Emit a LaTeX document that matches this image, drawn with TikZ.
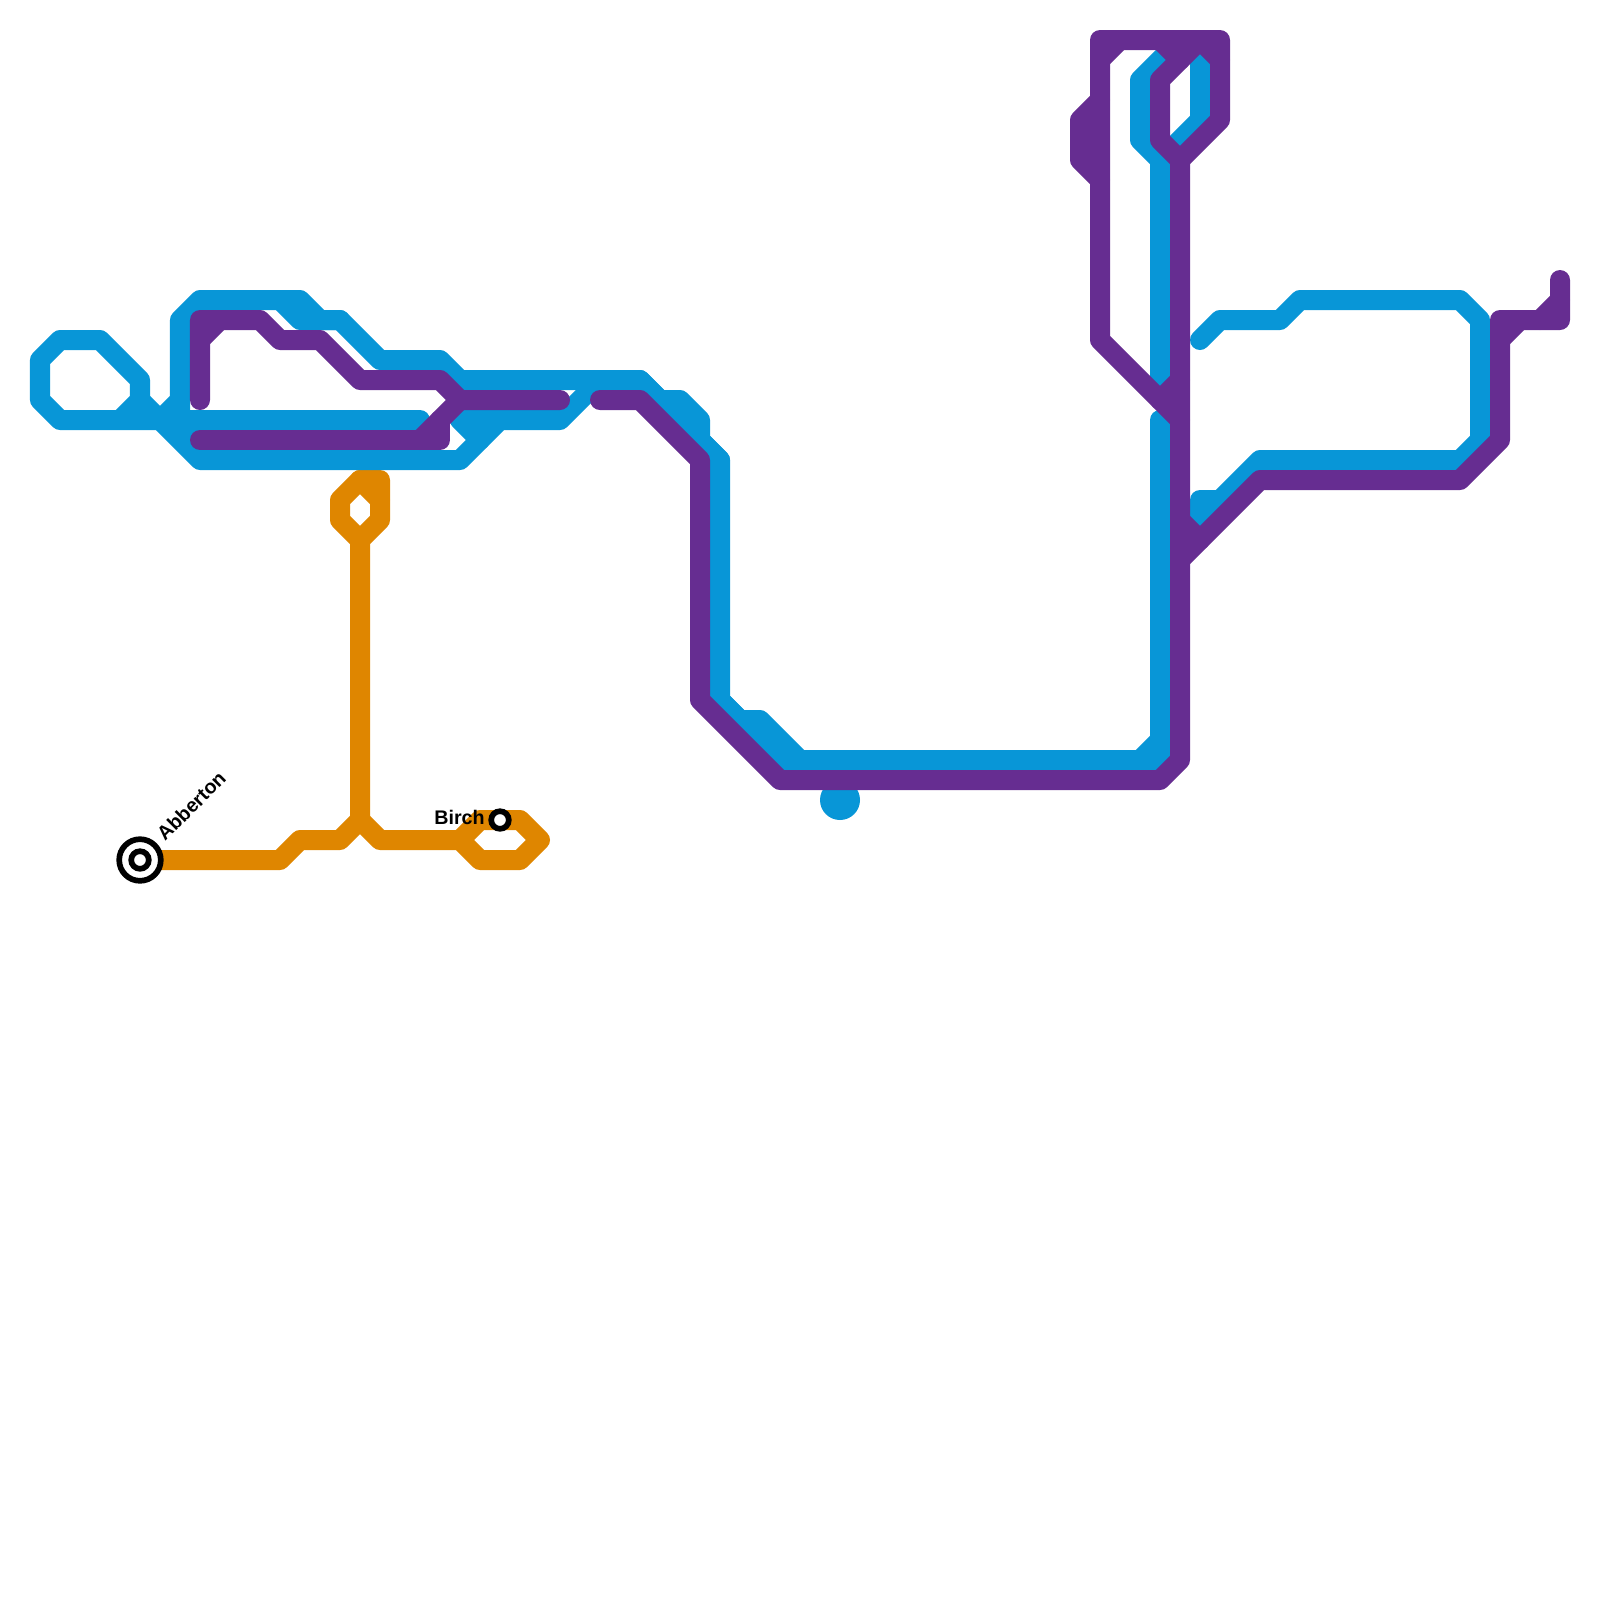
\documentclass[tikz,border=0pt]{standalone}
\usepackage{fontspec}
\setmainfont{Liberation Sans}
\definecolor{lineblue}{HTML}{0896D7}
\definecolor{linepurple}{HTML}{662D91}
\definecolor{lineorange}{HTML}{DF8600}
\tikzset{
  route/.style={line width=0.5cm,line cap=round,line join=round},
  blueline/.style={route,draw=lineblue},
  purpleline/.style={route,draw=linepurple},
  orangeline/.style={route,draw=lineorange},
  stationlabel/.style={font=\bfseries\fontsize{14pt}{16pt}\selectfont,inner sep=0pt,text=black},
  ringouter/.style={circle,fill=white,draw=black,line width=0.1425cm,inner sep=0pt,minimum size=1.04cm},
  ringinner/.style={circle,fill=white,draw=black,line width=0.1425cm,inner sep=0pt,minimum size=0.44cm},
}
\begin{document}
\begin{tikzpicture}[x=0.025cm,y=-0.025cm]
\useasboundingbox (0,0) rectangle (1600,1600);
% orange line
\draw[orangeline] (140,860) -- (280,860) -- (300,840) -- (340,840) -- (360,820) -- (380,840) -- (460,840) -- (480,860) -- (520,860) -- (540,840) -- (520,820) -- (480,820) -- (460,840);
\draw[orangeline] (360,820) -- (360,540) -- (380,520) -- (380,480) -- (360,480) -- (340,500) -- (340,520) -- (360,540);
\draw[orangeline] (360,480) -- (380,500);
% blue line
\draw[blueline] (120,420) -- (140,400) -- (140,380) -- (100,340) -- (60,340) -- (40,360) -- (40,400) -- (60,420) -- (420,420);
\draw[blueline] (140,400) -- (200,460) -- (460,460) -- (500,420) -- (560,420) -- (600,380);
\draw[blueline] (160,420) -- (180,400) -- (180,320) -- (200,300) -- (300,300) -- (320,320) -- (340,320) -- (380,360) -- (440,360) -- (460,380) -- (640,380) -- (720,460) -- (720,700) -- (780,760) -- (1160,760) -- (1160,420);
\draw[blueline] (180,400) -- (180,420) -- (200,440) -- (420,440);
\draw[blueline] (280,300) -- (300,320) -- (340,320);
\draw[blueline] (480,440) -- (460,420) -- (500,420);
\draw[blueline] (640,380) -- (660,400) -- (680,400) -- (700,420) -- (700,440) -- (720,460);
\draw[blueline] (720,700) -- (740,720) -- (760,720) -- (800,760);
\draw[blueline] (1140,760) -- (1160,740);
\draw[blueline] (1180,40) -- (1140,80) -- (1140,140) -- (1160,160) -- (1160,380);
\draw[blueline] (1180,40) -- (1200,60) -- (1200,120) -- (1160,160);
\draw[blueline] (1200,340) -- (1220,320) -- (1280,320) -- (1300,300) -- (1460,300) -- (1480,320) -- (1480,440) -- (1460,460) -- (1260,460) -- (1200,520) -- (1200,500) -- (1220,500);
\fill[lineblue] (840,800) circle (0.5cm);
% purple line
\draw[purpleline] (200,400) -- (200,320) -- (260,320) -- (280,340) -- (320,340) -- (360,380) -- (440,380) -- (460,400) -- (560,400);
\draw[purpleline] (200,340) -- (220,320);
\draw[purpleline] (200,440) -- (440,440) -- (440,420);
\draw[purpleline] (420,440) -- (460,400);
\draw[purpleline] (600,400) -- (640,400) -- (700,460) -- (700,700) -- (780,780) -- (1160,780) -- (1180,760) -- (1180,160) -- (1160,140) -- (1160,80) -- (1200,40);
\draw[purpleline] (1180,160) -- (1220,120) -- (1220,40) -- (1100,40) -- (1100,340) -- (1180,420);
\draw[purpleline] (1100,60) -- (1120,40);
\draw[purpleline] (1100,100) -- (1080,120) -- (1080,160) -- (1100,180);
\draw[purpleline] (1160,40) -- (1180,60);
\draw[purpleline] (1200,40) -- (1220,60);
\draw[purpleline] (1180,380) -- (1160,400);
\draw[purpleline] (1180,520) -- (1200,540);
\draw[purpleline] (1180,560) -- (1260,480) -- (1460,480) -- (1500,440) -- (1500,320) -- (1560,320) -- (1560,280);
\draw[purpleline] (1500,340) -- (1520,320);
\draw[purpleline] (1560,300) -- (1540,320);
% stations
\node[ringouter] (abbertonring) at (140,860) {};
\node[ringinner] (abberton) at (140,860) {};
\node[ringinner] (birch) at (500,820) {};
\node[stationlabel,anchor=base west,rotate=45] (abbertonlabel) at (165,842) {Abberton};
\node[stationlabel,anchor=east] (birchlabel) at (485,817) {Birch};
\end{tikzpicture}
\end{document}
